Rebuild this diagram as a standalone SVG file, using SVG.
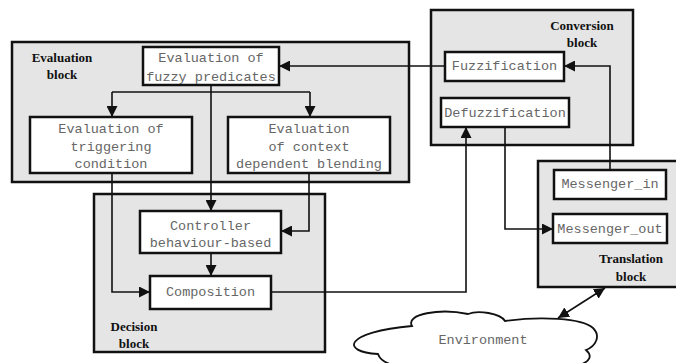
<svg xmlns="http://www.w3.org/2000/svg" width="676" height="363" viewBox="0 0 676 363">
<style>
.blk{fill:#e5e5e5;stroke:#111;stroke-width:2.5}
.box{fill:#fff;stroke:#111;stroke-width:2.5}
.t{font-family:"Liberation Mono","Courier New",monospace;font-size:13.5px;fill:#666;text-anchor:middle}
.lb{font-family:"Liberation Serif","Times New Roman",serif;font-size:13px;font-weight:bold;fill:#111;text-anchor:middle}
.c{fill:none;stroke:#111;stroke-width:1.6}
</style>
<defs>
<marker id="ah" viewBox="0 0 10 10" refX="10" refY="5" markerWidth="11" markerHeight="11" markerUnits="userSpaceOnUse" orient="auto-start-reverse">
<path d="M0,0 L10,5 L0,10 z" fill="#111"/>
</marker>
</defs>
<rect width="676" height="363" fill="#fff"/>
<g id="evaluation-block">
<rect class="blk" x="12" y="42" width="397" height="140"/>
<text class="lb" x="62" y="62">Evaluation</text>
<text class="lb" x="62" y="79">block</text>
</g>
<g id="conversion-block">
<rect class="blk" x="431" y="10" width="202" height="135"/>
<text class="lb" x="582" y="30">Conversion</text>
<text class="lb" x="582" y="47">block</text>
</g>
<g id="decision-block">
<rect class="blk" x="94" y="194" width="231" height="158"/>
<text class="lb" x="134" y="331">Decision</text>
<text class="lb" x="134" y="348">block</text>
</g>
<g id="translation-block">
<rect class="blk" x="538" y="161" width="142" height="126"/>
<text class="lb" x="631" y="263">Translation</text>
<text class="lb" x="631" y="281">block</text>
</g>
<g id="fuzzy-predicates">
<rect class="box" x="143" y="47" width="136" height="38"/>
<text class="t" x="211" y="62">Evaluation of</text>
<text class="t" x="211" y="81">fuzzy predicates</text>
</g>
<g id="triggering-condition">
<rect class="box" x="30" y="117" width="162" height="56"/>
<text class="t" x="111" y="133">Evaluation of</text>
<text class="t" x="111" y="151">triggering</text>
<text class="t" x="111" y="168">condition</text>
</g>
<g id="context-blending">
<rect class="box" x="228" y="117" width="162" height="56"/>
<text class="t" x="309" y="133">Evaluation</text>
<text class="t" x="309" y="151">of context</text>
<text class="t" x="309" y="168">dependent blending</text>
</g>
<g id="fuzzification">
<rect class="box" x="445" y="52" width="119" height="29"/>
<text class="t" x="504.5" y="70">Fuzzification</text>
</g>
<g id="defuzzification">
<rect class="box" x="441" y="98" width="128" height="29"/>
<text class="t" x="505" y="117">Defuzzification</text>
</g>
<g id="controller">
<rect class="box" x="140" y="211" width="141" height="42"/>
<text class="t" x="210.5" y="230">Controller</text>
<text class="t" x="210.5" y="247">behaviour-based</text>
</g>
<g id="composition">
<rect class="box" x="150" y="276" width="121" height="33"/>
<text class="t" x="210.5" y="296">Composition</text>
</g>
<g id="messenger-in">
<rect class="box" x="554" y="170" width="112" height="29"/>
<text class="t" x="610" y="188">Messenger_in</text>
</g>
<g id="messenger-out">
<rect class="box" x="553" y="214" width="114" height="29"/>
<text class="t" x="610" y="233">Messenger_out</text>
</g>
<g id="environment">
<path d="M412,326 C405,314 440,308 468,314 C478,310 500,313 505,321 C540,316 582,318 593,328 C601,336 596,346 586,350 C600,362 572,372 540,366 C520,372 480,372 440,366 C405,370 382,366 378,354 C340,352 344,332 412,326 Z" fill="#fff" stroke="#111" stroke-width="1.8"/>
<text class="t" x="483" y="344">Environment</text>
</g>
<g id="connectors">
<path class="c" d="M445,66 H279" marker-end="url(#ah)"/>
<path class="c" d="M610,170 V66 H564" marker-end="url(#ah)"/>
<path class="c" d="M112,92 H310"/>
<path class="c" d="M112,92 V117" marker-end="url(#ah)"/>
<path class="c" d="M310,92 V117" marker-end="url(#ah)"/>
<path class="c" d="M211,85 V211" marker-end="url(#ah)"/>
<path class="c" d="M309,173 V231 H281" marker-end="url(#ah)"/>
<path class="c" d="M112,173 V292 H150" marker-end="url(#ah)"/>
<path class="c" d="M211,253 V276" marker-end="url(#ah)"/>
<path class="c" d="M271,292 H466 V127" marker-end="url(#ah)"/>
<path class="c" d="M505,127 V229 H553" marker-end="url(#ah)"/>
<path class="c" d="M558,318 L605,288" marker-start="url(#ah)" marker-end="url(#ah)"/>
</g>
</svg>
